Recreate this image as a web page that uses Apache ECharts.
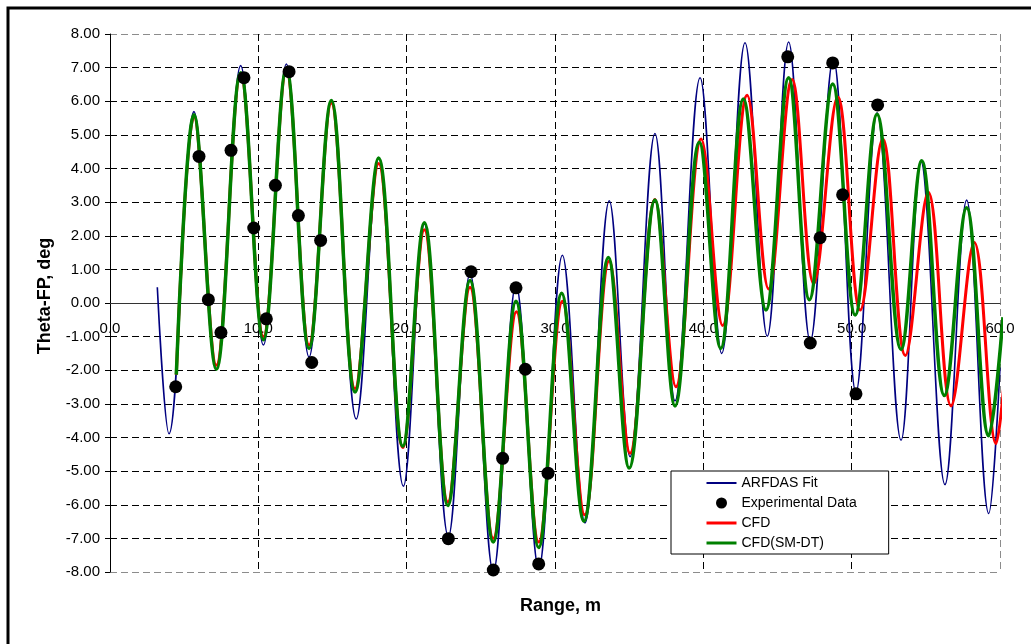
<!DOCTYPE html>
<html>
<head>
<meta charset="utf-8">
<script src="https://cdn.jsdelivr.net/npm/echarts@6/dist/echarts.min.js"></script>
<style>
  html, body { margin: 0; padding: 0; background: #fff; }
  #main { width: 1031px; height: 644px; }
</style>
</head>
<body>
<div id="main"></div>
<script>
// values: [range m, theta deg]
var arfdasFit = [
  [3.19, 0.47], [3.98, -3.89], [5.66, 5.69], [7.17, -1.97], [8.81, 7.06], [10.34, -1.25],
  [11.89, 7.11], [13.42, -1.61], [14.92, 6.02], [16.6, -3.45], [18.11, 4.31], [19.78, -5.45],
  [21.19, 2.35], [22.81, -6.95], [24.27, 0.88], [25.84, -8.0], [27.37, 0.55], [28.9, -7.9],
  [30.5, 1.42], [32.02, -6.54], [33.66, 3.04], [35.06, -4.57], [36.74, 5.04], [38.09, -2.91],
  [39.78, 6.70], [41.24, -1.5], [42.81, 7.74], [44.31, -0.99], [45.75, 7.76], [47.21, -1.14],
  [48.76, 7.27], [50.29, -2.65], [51.71, 5.66], [53.33, -4.08], [54.67, 4.21], [56.29, -5.40],
  [57.75, 3.06], [59.24, -6.26], [60.0, -1.92]
];

var experimental = [
  [4.43, -2.49], [6.0, 4.36], [6.63, 0.10], [7.48, -0.88], [8.16, 4.54], [9.03, 6.70],
  [9.69, 2.23], [10.54, -0.47], [11.15, 3.50], [12.07, 6.88], [12.70, 2.60], [13.60, -1.77],
  [14.20, 1.86], [22.81, -7.01], [24.34, 0.93], [25.84, -7.94], [26.47, -4.62], [27.37, 0.45],
  [28.0, -1.97], [28.9, -7.76], [29.53, -5.06], [45.69, 7.32], [47.21, -1.19], [47.87, 1.94],
  [48.72, 7.14], [49.39, 3.22], [50.29, -2.70], [51.75, 5.89]
];

var cfd = [
  [4.47, -2.13], [5.66, 5.55], [7.17, -1.85], [8.81, 6.8], [10.34, -1.0], [11.89, 6.9],
  [13.42, -1.25], [14.92, 5.95], [16.52, -2.55], [18.11, 4.15], [19.74, -4.3], [21.19, 2.18],
  [22.78, -5.92], [24.27, 0.47], [25.84, -7.0], [27.4, -0.26], [28.9, -7.11], [30.5, 0.05],
  [32.0, -6.3], [33.65, 1.25], [35.06, -4.47], [36.74, 3.08], [38.15, -2.49], [39.85, 4.88],
  [41.3, -0.67], [42.95, 6.18], [44.4, 0.42], [45.98, 6.65], [47.44, 0.57], [49.06, 6.13],
  [50.58, -0.21], [52.09, 4.88], [53.62, -1.56], [55.17, 3.29], [56.7, -3.06], [58.27, 1.80],
  [59.73, -4.18], [60.4, -1.7]
];

var cfdSmDt = [
  [4.47, -2.13], [5.66, 5.6], [7.17, -1.97], [8.81, 6.85], [10.34, -1.09], [11.89, 6.96],
  [13.42, -1.35], [14.92, 6.02], [16.52, -2.65], [18.11, 4.31], [19.74, -4.26], [21.19, 2.39],
  [22.78, -6.02], [24.27, 0.67], [25.84, -7.11], [27.37, 0.05], [28.9, -7.27], [30.45, 0.29],
  [31.95, -6.49], [33.6, 1.35], [35.0, -4.91], [36.74, 3.06], [38.09, -3.06], [39.73, 4.78],
  [41.17, -1.35], [42.7, 6.07], [44.22, -0.21], [45.75, 6.70], [47.15, 0.10], [48.72, 6.51],
  [50.24, -0.36], [51.71, 5.61], [53.33, -1.38], [54.72, 4.23], [56.25, -2.75], [57.75, 2.83],
  [59.24, -3.95], [60.2, -0.42]
];

var font = '"Liberation Sans", Arial, sans-serif';
var chart = echarts.init(document.getElementById('main'));

// gray lines on the plot-area edges, black dashes inside
var xGridColors = ['#000', '#000', '#000', '#000', '#000', '#000', '#8c8c8c'];
var yGridColors = ['#8c8c8c'];
for (var i = 0; i < 15; i++) yGridColors.push('#000');
yGridColors.push('#8c8c8c');

var gridTop = 34, gridBottom = 72;
var plotH = 644 - gridTop - gridBottom;
// x axis (line + labels) sits on theta = 0, half way up the plot
var zeroShift = plotH / 2;

chart.setOption({
  animation: false,
  backgroundColor: '#fff',
  graphic: [{
    type: 'rect',
    shape: { x: 8, y: 8, width: 1040, height: 660 },
    style: { fill: 'none', stroke: '#000', lineWidth: 3 }
  }],
  title: {
    text: 'Range, m',
    left: 515,
    top: 592,
    textStyle: { fontFamily: font, fontSize: 18, fontWeight: 'bold', color: '#000' }
  },
  grid: { left: 110, right: 31, top: gridTop, bottom: gridBottom },
  legend: {
    data: [
      { name: 'ARFDAS Fit', itemStyle: { opacity: 0 }, lineStyle: { width: 2 } },
      { name: 'Experimental Data' },
      { name: 'CFD', itemStyle: { opacity: 0 }, lineStyle: { width: 3 } },
      { name: 'CFD(SM-DT)', itemStyle: { opacity: 0 }, lineStyle: { width: 3 } }
    ],
    orient: 'vertical',
    left: 671,
    top: 471,
    padding: [5, 32, 4, 34],
    itemWidth: 30,
    itemHeight: 11,
    itemGap: 6,
    backgroundColor: '#fff',
    borderColor: '#000',
    borderWidth: 1,
    borderRadius: 0,
    textStyle: { fontFamily: font, fontSize: 14, color: '#000' }
  },
  xAxis: {
    type: 'value',
    min: 0,
    max: 60,
    interval: 10,
    offset: -zeroShift,
    axisLine: { onZero: false, lineStyle: { color: '#333', width: 1 } },
    axisTick: { show: false },
    axisLabel: {
      margin: 18,
      fontFamily: font,
      fontSize: 15,
      color: '#000',
      formatter: function (v) { return v.toFixed(1); }
    },
    splitLine: {
      show: true,
      showMinLine: true,
      showMaxLine: true,
      lineStyle: { color: xGridColors, type: [7, 4], width: 1 }
    }
  },
  yAxis: {
    type: 'value',
    min: -8,
    max: 8,
    interval: 1,
    name: 'Theta-FP, deg',
    nameLocation: 'middle',
    nameGap: 56,
    nameTextStyle: {
      fontFamily: font, fontSize: 18, fontWeight: 'bold', color: '#000',
      padding: [0, 0, 0, 14]
    },
    axisLine: { show: true, onZero: false, lineStyle: { color: '#000', width: 1 } },
    axisTick: { show: true, length: 5, lineStyle: { color: '#000' } },
    axisLabel: {
      margin: 10,
      fontFamily: font,
      fontSize: 15,
      color: '#000',
      formatter: function (v) { return v.toFixed(2); }
    },
    splitLine: {
      show: true,
      showMinLine: true,
      showMaxLine: true,
      lineStyle: { color: yGridColors, type: [7, 4], width: 1 }
    }
  },
  series: [
    {
      name: 'ARFDAS Fit',
      type: 'line',
      data: arfdasFit,
      smooth: 0.38,
      symbol: 'none',
      clip: false,
      z: 2,
      lineStyle: { color: '#000080', width: 1.6 },
      itemStyle: { color: '#000080' }
    },
    {
      name: 'CFD',
      type: 'line',
      data: cfd,
      smooth: 0.38,
      symbol: 'none',
      clip: false,
      z: 3,
      lineStyle: { color: '#ff0000', width: 3 },
      itemStyle: { color: '#ff0000' }
    },
    {
      name: 'CFD(SM-DT)',
      type: 'line',
      data: cfdSmDt,
      smooth: 0.38,
      symbol: 'none',
      clip: false,
      z: 4,
      lineStyle: { color: '#008000', width: 3.5 },
      itemStyle: { color: '#008000' }
    },
    {
      name: 'Experimental Data',
      type: 'scatter',
      data: experimental,
      symbol: 'circle',
      symbolSize: 13,
      z: 5,
      itemStyle: { color: '#000', opacity: 1 }
    }
  ]
});
</script>
</body>
</html>
